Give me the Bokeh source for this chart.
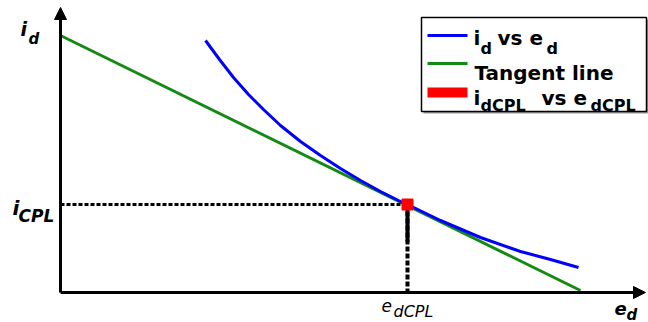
from bokeh.plotting import figure
from bokeh.models import Range1d, Arrow, NormalHead, Label
from bokeh.embed import file_html
from bokeh.resources import INLINE

# ---- data (arbitrary units) ----
e_curve = [145, 159, 173, 188, 203, 220, 240, 260, 280, 300, 320, 338, 347, 380, 420, 460, 490, 518]
i_curve = [252, 233, 215, 198, 183, 167, 151, 137, 124, 112, 101, 92, 88, 72, 55, 41, 33, 25]
e_tangent = [0, 520]
i_tangent = [257, 2]
e_op = [347]
i_op = [88]

# layout helpers: reference-image pixel -> data
def X(px):
    return px - 60

def Y(py):
    return 292 - py

FONT = "DejaVu Sans"

p = figure(width=648, height=322, x_range=Range1d(-60, 588), y_range=Range1d(-30, 292),
           output_backend="svg", toolbar_location=None, min_border=0)
p.axis.visible = False
p.grid.visible = False
p.outline_line_color = None

# axes with arrows
p.add_layout(Arrow(end=NormalHead(size=12, fill_color="black", line_color="black"),
                   x_start=0, y_start=0, x_end=X(645), y_end=0,
                   line_width=3, line_color="black"))
p.add_layout(Arrow(end=NormalHead(size=12, fill_color="black", line_color="black"),
                   x_start=0, y_start=0, x_end=0, y_end=Y(7),
                   line_width=3, line_color="black"))

# tangent and curve
p.line(e_tangent, i_tangent, line_color="#148a14", line_width=3)
p.line(e_curve, i_curve, line_color="#0000ff", line_width=3)

# guide lines
p.line([0, e_op[0]], [i_op[0], i_op[0]], line_color="black", line_width=3, line_dash="4 2")
p.line([e_op[0], e_op[0]], [i_op[0], 0], line_color="black", line_width=4, line_dash="5 2")
p.line([e_op[0], e_op[0]], [i_op[0], i_op[0] * 0.57], line_color="black", line_width=4)

# operating point
p.scatter(e_op, i_op, marker="square", size=11, fill_color="#ff0000", line_color="#ff0000")

def lab(x, y, t, size, style):
    p.add_layout(Label(x=X(x), y=Y(y), text=t, text_font=FONT, text_font_size=f"{size}px",
                       text_font_style=style, text_color="black", text_baseline="alphabetic",
                       text_align="left"))

# axis labels
lab(20, 28, "i", 19, "bold italic")
lab(28, 38, "d", 15, "bold italic")
lab(12, 207, "i", 20, "bold italic")
lab(18, 215, "CPL", 17, "bold italic")
lab(381, 305, "e", 17, "italic")
lab(393, 311, "dCPL", 16, "italic")
lab(614, 308, "e", 18, "bold italic")
lab(626, 314, "d", 15, "bold italic")

# legend box
p.quad(left=[X(423)], right=[X(649)], top=[Y(19)], bottom=[Y(113)],
       fill_color="#9a9a9a", line_color=None)
p.quad(left=[X(421)], right=[X(646)], top=[Y(17)], bottom=[Y(111)],
       fill_color="white", line_color="black", line_width=1.5)

p.line([X(427), X(467)], [Y(35), Y(35)], line_color="#0000ff", line_width=3)
p.line([X(427), X(467)], [Y(63), Y(63)], line_color="#148a14", line_width=3)
p.quad(left=[X(427)], right=[X(467)], top=[Y(87)], bottom=[Y(97)],
       fill_color="#ff0000", line_color=None)

lab(473, 37, "i", 20, "bold")
lab(480, 48, "d", 16, "bold")
lab(497, 37, "vs e", 20, "bold")
lab(546, 48, "d", 16, "bold")
lab(474, 72, "Tangent line", 20, "bold")
lab(473, 97, "i", 20, "bold")
lab(480, 105, "dCPL", 16, "bold")
lab(541, 97, "vs e", 20, "bold")
lab(590, 105, "dCPL", 16, "bold")

open("out.html", "w").write(file_html(p, INLINE))
